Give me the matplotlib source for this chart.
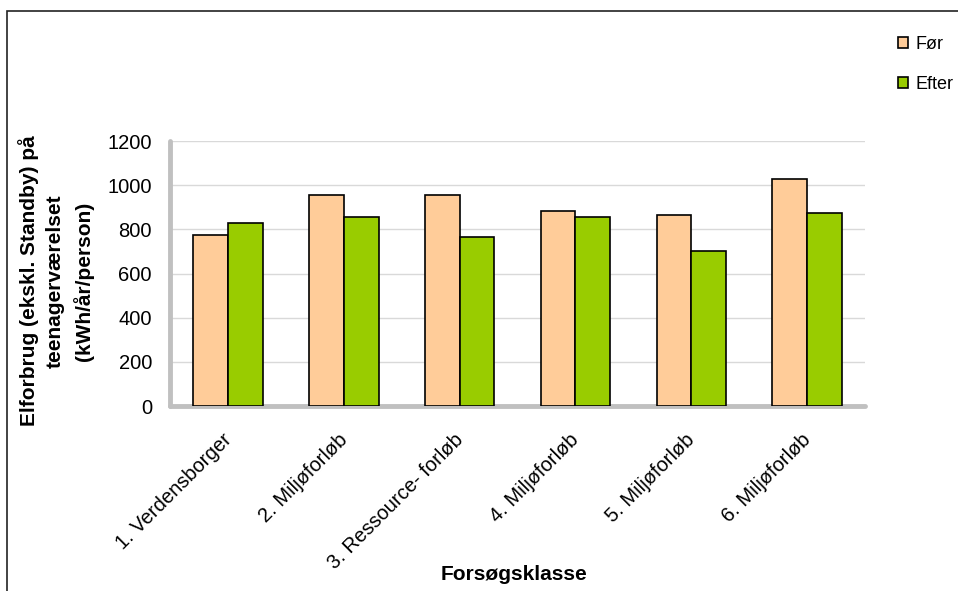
import matplotlib.pyplot as plt
import matplotlib.transforms as mtransforms
from matplotlib.patches import Rectangle
import numpy as np

plt.rcParams['font.family'] = ['Liberation Sans', 'DejaVu Sans']

# Elforbrug pr. forsøgsklasse, før og efter forløbet
klasser = ['1. Verdensborger', '2. Miljøforløb', '3. Ressource- forløb',
           '4. Miljøforløb', '5. Miljøforløb', '6. Miljøforløb']
foer = [775, 955, 955, 885, 866, 1028]
efter = [828, 857, 766, 857, 703, 876]
yticks = [0, 200, 400, 600, 800, 1000, 1200]

fig = plt.figure(figsize=(9.58, 5.91), dpi=100)

# ramme rundt om diagrammet
fig.patches.append(Rectangle((7 / 958, -0.1), 1.2, 1 - 11 / 591 + 0.1,
                             transform=fig.transFigure, fill=False,
                             edgecolor='#222222', linewidth=1.2))

ax = fig.add_axes([170 / 958, 1 - 406 / 591, 695 / 958, 265 / 591])

x = np.arange(len(klasser))
w = 0.30
ax.bar(x - w / 2, foer, w, color='#FFCC99', edgecolor='black', linewidth=1.2,
       label='Før', zorder=3)
ax.bar(x + w / 2, efter, w, color='#99CC00', edgecolor='black', linewidth=1.2,
       label='Efter', zorder=3)

ax.set_xlim(-0.5, len(klasser) - 0.5)
ax.set_ylim(0, 1200)
ax.set_yticks(yticks)
ax.set_yticklabels([str(v) for v in yticks], fontsize=14.5)
ax.yaxis.grid(True, color='#d9d9d9', linewidth=1, zorder=0)
ax.tick_params(axis='both', length=0)
ax.tick_params(axis='y', pad=13)
ax.tick_params(axis='x', pad=0)

for s in ['top', 'right']:
    ax.spines[s].set_visible(False)
for s in ['left', 'bottom']:
    ax.spines[s].set_color('#c0c0c0')
    ax.spines[s].set_linewidth(3.5)
    ax.spines[s].set_capstyle('round')

ax.set_xticks(x)
ax.set_xticklabels(klasser, fontsize=14.5, rotation=45,
                   ha='right', va='top', rotation_mode='anchor')
offset = mtransforms.ScaledTranslation(-6 / 100, -24 / 100, fig.dpi_scale_trans)
for lbl in ax.get_xticklabels():
    lbl.set_transform(lbl.get_transform() + offset)

fig.text(514 / 958, 1 - 575 / 591, 'Forsøgsklasse', ha='center', va='center',
         fontsize=15, fontweight='bold')
fig.text(56 / 958, 1 - 281 / 591,
         'Elforbrug (ekskl. Standby) på\nteenagerværelset\n(kWh/år/person)',
         ha='center', va='center', rotation=90, fontsize=15,
         fontweight='bold', linespacing=1.5)

ax.legend(loc='upper left', bbox_to_anchor=(889 / 958, 1 - 27 / 591),
          bbox_transform=fig.transFigure, frameon=False, fontsize=13,
          handlelength=0.56, handleheight=0.56, handletextpad=0.4,
          labelspacing=1.25, borderpad=0)

fig.savefig('out.png', dpi=100)
